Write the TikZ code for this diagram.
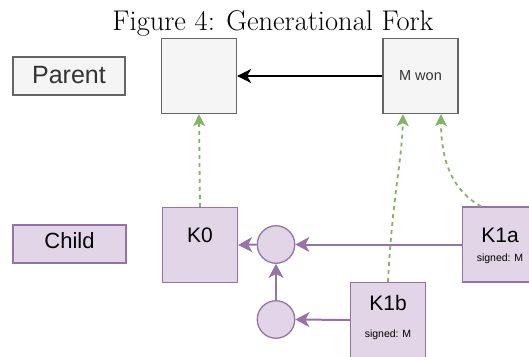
\documentclass[tikz,border=0pt]{standalone}
\usepackage{fontspec}
\newfontfamily\lab{Liberation Sans}
\usetikzlibrary{arrows.meta}
\definecolor{greyfill}{HTML}{F5F5F5}
\definecolor{greyline}{HTML}{666666}
\definecolor{greytext}{HTML}{333333}
\definecolor{lilacfill}{HTML}{E1D5E7}
\definecolor{lilacline}{HTML}{9673A6}
\definecolor{leafgreen}{HTML}{82B366}

\begin{document}
\begin{tikzpicture}[x=1pt,y=-1pt,
  greybox/.style={draw=greyline,fill=greyfill,line width=1.3pt,inner sep=0pt},
  lilacbox/.style={draw=lilacline,fill=lilacfill,line width=1.3pt,inner sep=0pt},
  square/.style={minimum width=75pt,minimum height=75pt},
  junction/.style={circle,draw=lilacline,fill=lilacfill,line width=1.3pt,minimum size=37.5pt,inner sep=0pt},
  txt/.style={inner sep=0pt,anchor=base},
  flow/.style={draw=lilacline,line width=2pt,-{Stealth[length=14pt,width=15pt,inset=4pt]}},
  origin/.style={draw=leafgreen,line width=1.8pt,dash pattern=on 4pt off 4pt,-{Stealth[length=12pt,width=12pt,inset=3pt]}},
  succ/.style={draw=black,line width=1.4pt,-{Stealth[length=14pt,width=14pt,inset=4pt]}}]
\useasboundingbox (0,0) rectangle (529,356);
\clip (0,0) rectangle (529,356);

% title
\node[txt] (title) at (273,30) {\fontsize{28.5}{34}\selectfont Figure 4: Generational Fork};

% row labels
\node[greybox,minimum width=112pt,minimum height=38pt] (parentlab) at (69,76) {};
\node[txt,text=greytext] (parenttxt) at (69,83) {\lab\fontsize{25}{30}\selectfont Parent};
\node[lilacbox,minimum width=113pt,minimum height=38pt] (childlab) at (69.5,244) {};
\node[txt] (childtxt) at (69.5,248) {\lab\fontsize{22}{26}\selectfont Child};

% parent generation
\node[greybox,square] (base) at (199,76) {};
\node[greybox,square] (mwon) at (420.5,76) {};
\node[txt,text=greytext] (mwontxt) at (420.5,80) {\lab\fontsize{14.5}{17}\selectfont M won};

% child generation
\node[lilacbox,square] (k0) at (200,245) {};
\node[txt] (k0txt) at (200,242) {\lab\fontsize{21}{25}\selectfont K0};

\node[lilacbox,square] (k1a) at (500,244.5) {};
\node[txt] (k1atxt) at (500,242.5) {\lab\fontsize{21}{25}\selectfont K1a};
\node[txt] (k1asig) at (500,261) {\lab\fontsize{10.5}{12}\selectfont signed: M};

\node[lilacbox,square] (k1b) at (388,320) {};
\node[txt] (k1btxt) at (388,310) {\lab\fontsize{21}{25}\selectfont K1b};
\node[txt] (k1bsig) at (388,337) {\lab\fontsize{10.5}{12}\selectfont signed: M};

\node[junction] (j1) at (276,244.5) {};
\node[junction] (j2) at (276,319.5) {};

% ports on the box edges for the dashed lines
\coordinate (k1bfoot) at (k1b.north);
\coordinate (k1afoot) at ([xshift=-19pt]k1a.north);
\coordinate (mwonleft) at ([xshift=-17.5pt]mwon.south);
\coordinate (mwonright) at ([xshift=20.5pt]mwon.south);

% succession in the parent generation
\draw[succ] (mwon.west) -- (base.east);

% merges in the child generation
\draw[flow] (k1a.west) -- (j1.east);
\draw[flow] (j1.west) -- (k0.east);
\draw[flow] (k1b.west) -- (j2.east);
\draw[flow] (j2.north) -- (j1.south);

% descent from the parents
\draw[origin] (k0.north) -- (base.south);
\draw[origin] (k1bfoot) .. controls (392,200) and (402,160) .. (mwonleft);
\draw[origin] (k1afoot) .. controls (455,192) and (441,165) .. (mwonright);
\end{tikzpicture}
\end{document}
